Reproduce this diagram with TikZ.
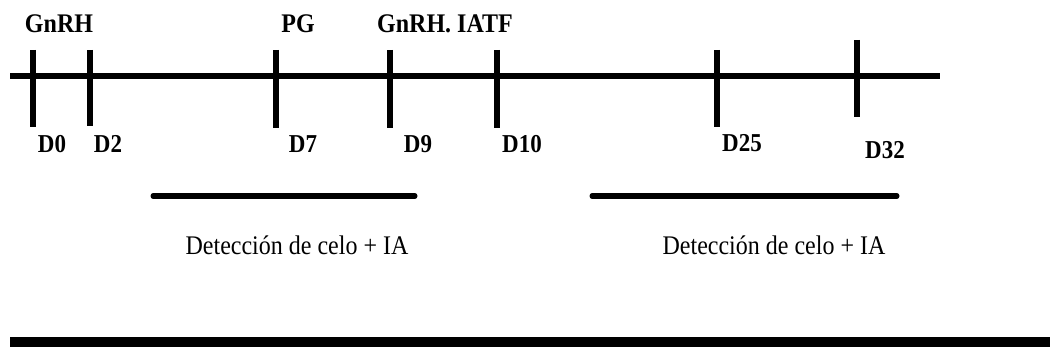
\documentclass[tikz,border=0pt]{standalone}
\usepackage{fontspec}
\usepackage{graphicx}
\setmainfont{Liberation Serif}
\newcommand{\tall}[1]{\scalebox{1}[1.12]{#1}}
\begin{document}
\begin{tikzpicture}[x=1pt,y=-1pt,
  axis/.style={line width=6pt},
  tick/.style={line width=6pt},
  bar/.style={line width=5pt, line cap=round},
  rule/.style={line width=10pt},
  daylbl/.style={inner sep=0pt, font=\fontsize{23}{23}\selectfont\bfseries},
  druglbl/.style={inner sep=0pt, font=\fontsize{24}{24}\selectfont\bfseries},
  periodlbl/.style={inner sep=0pt, font=\fontsize{24}{24}\selectfont}]
\useasboundingbox (0,0) rectangle (1050,350);

% timeline axis
\coordinate (axL) at (10,76);
\coordinate (axR) at (940,76);
\draw[axis] (axL) -- (axR);

% day ticks
\foreach \n/\x/\t/\b in {d0/33/50/127, d2/90/50/126, d7/276/50/128, d9/390/50/128,
                         d10/497/50/128, d25/717/50/127, d32/857/40/117}{
  \coordinate (\n t) at (\x,\t);
  \coordinate (\n b) at (\x,\b);
  \draw[tick] (\n t) -- (\n b);
}

% treatments
\node[druglbl] (gnrh) at (59,24) {\tall{GnRH}};
\node[druglbl] (pg) at (298,24) {\tall{PG}};
\node[druglbl] (iatf) at (445,24) {\tall{GnRH. IATF}};

% day labels
\node[daylbl] (l0) at (52,144) {\tall{D0}};
\node[daylbl] (l2) at (108,144) {\tall{D2}};
\node[daylbl] (l7) at (303,144) {\tall{D7}};
\node[daylbl] (l9) at (418,144) {\tall{D9}};
\node[daylbl] (l10) at (522,144) {\tall{D10}};
\node[daylbl] (l25) at (742,143) {\tall{D25}};
\node[daylbl] (l32) at (885,150) {\tall{D32}};

% heat detection periods
\coordinate (p1L) at (153,196);
\coordinate (p1R) at (415,196);
\draw[bar] (p1L) -- (p1R);
\node[periodlbl] (t1) at (297,245) {\tall{Detección de celo + IA}};
\coordinate (p2L) at (592,196);
\coordinate (p2R) at (897,196);
\draw[bar] (p2L) -- (p2R);
\node[periodlbl] (t2) at (774,245) {\tall{Detección de celo + IA}};

% closing rule
\coordinate (rL) at (10,342);
\coordinate (rR) at (1050,342);
\draw[rule] (rL) -- (rR);
\end{tikzpicture}
\end{document}
